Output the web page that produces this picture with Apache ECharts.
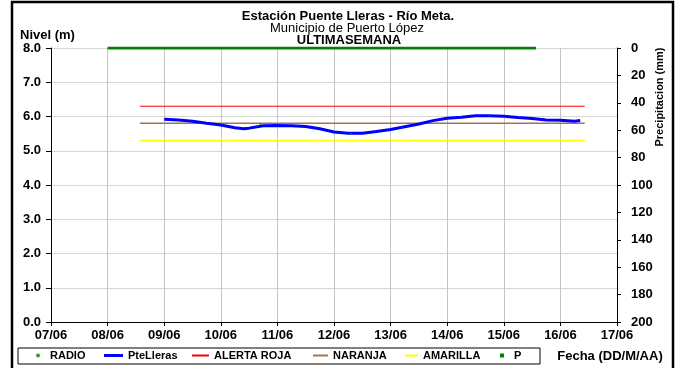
<!DOCTYPE html>
<html>
<head>
<meta charset="utf-8">
<script src="https://cdn.jsdelivr.net/npm/echarts@6/dist/echarts.min.js"></script>
<style>
html,body{margin:0;padding:0;background:#fff;}
#main{width:679px;height:368px;}
</style>
</head>
<body>
<div id="main"></div>
<script>
// dias de junio (fraccion = hora del dia)
const levelDays = [9.00, 9.25, 9.50, 9.75, 10.00, 10.25, 10.40, 10.50, 10.75, 11.00, 11.25, 11.50, 11.75, 12.00, 12.25, 12.50, 12.75, 13.00, 13.25, 13.50, 13.75, 14.00, 14.25, 14.50, 14.75, 15.00, 15.25, 15.50, 15.75, 16.00, 16.25, 16.35];
const levelValues = [5.92, 5.90, 5.86, 5.80, 5.75, 5.67, 5.64, 5.66, 5.73, 5.74, 5.73, 5.71, 5.64, 5.55, 5.51, 5.51, 5.56, 5.62, 5.70, 5.78, 5.88, 5.95, 5.98, 6.02, 6.02, 6.01, 5.97, 5.94, 5.90, 5.89, 5.86, 5.88];
const radioDays = [10.7, 12.3, 13.2, 14.75];
const radioValues = [5.78, 5.50, 5.68, 6.04];
const alertDays = [8.57, 16.43];
const alertaRoja = [6.3, 6.3];
const naranja = [5.8, 5.8];
const amarilla = [5.3, 5.3];
const precipDays = [8.0, 8.5, 9.0, 9.5, 10.0, 10.5, 11.0, 11.5, 12.0, 12.5, 13.0, 13.5, 14.0, 14.5, 15.0, 15.57];
const precipValues = [0, 0, 0, 0, 0, 0, 0, 0, 0, 0, 0, 0, 0, 0, 0, 0];
const levelTicks = ['0.0', '1.0', '2.0', '3.0', '4.0', '5.0', '6.0', '7.0', '8.0'];

const font = 'Liberation Sans, Arial, sans-serif';
const pair = (xs, ys) => xs.map((x, i) => [x, ys[i]]);

let myChart = echarts.init(document.getElementById('main'));

const legendText = {color: '#000', fontFamily: font, fontWeight: 'bold', fontSize: 11};
function legendItem(name, left, w, h, icon, color) {
    return {
        data: [{name: name, itemStyle: {color: color}}], left: left, top: 350, icon: icon,
        itemWidth: w, itemHeight: h, padding: 0,
        textStyle: legendText, selectedMode: false
    };
}

const options = {
    animation: false,
    grid: {left: 51, right: 62, top: 48, bottom: 46},
    graphic: [
        {type: 'rect', shape: {x: 12, y: 2, width: 661, height: 380}, style: {fill: 'none', stroke: '#000', lineWidth: 2.5}},
        {type: 'rect', shape: {x: 18, y: 348, width: 522, height: 16}, style: {fill: 'none', stroke: '#000', lineWidth: 1}},
        {type: 'text', x: 348, y: 16, style: {text: 'Estación Puente Lleras - Río Meta.', font: 'bold 13px ' + font, fill: '#000', align: 'center', verticalAlign: 'middle'}},
        {type: 'text', x: 347, y: 28, style: {text: 'Municipio de Puerto López', font: '13px ' + font, fill: '#000', align: 'center', verticalAlign: 'middle'}},
        {type: 'text', x: 349, y: 40, style: {text: 'ULTIMASEMANA', font: 'bold 13px ' + font, fill: '#000', align: 'center', verticalAlign: 'middle'}},
        {type: 'text', x: 20, y: 35, style: {text: 'Nivel (m)', font: 'bold 13px ' + font, fill: '#000', align: 'left', verticalAlign: 'middle'}},
        {type: 'text', x: 610, y: 356, style: {text: 'Fecha (DD/M/AA)', font: 'bold 13px ' + font, fill: '#000', align: 'center', verticalAlign: 'middle'}},
        {type: 'text', x: 660, y: 97, rotation: Math.PI / 2, style: {text: 'Precipitacion (mm)', font: 'bold 11px ' + font, fill: '#000', align: 'center', verticalAlign: 'middle'}}
    ],
    legend: [
        legendItem('RADIO', 36, 14, 4, 'circle', '#008000'),
        legendItem('PteLleras', 104, 19, 3, 'rect', '#0000ff'),
        legendItem('ALERTA ROJA', 192, 17, 2, 'rect', '#ff0000'),
        legendItem('NARANJA', 313, 15, 2, 'rect', '#9c7656'),
        legendItem('AMARILLA', 405, 13, 2, 'rect', '#ffff00'),
        legendItem('P', 500, 14, 4, 'path://M0,0L4,0L4,4L0,4Z', '#008000')
    ],
    xAxis: {
        type: 'value', min: 7, max: 17, interval: 1,
        axisLine: {lineStyle: {color: '#000'}},
        axisTick: {length: 4, lineStyle: {color: '#000'}},
        axisLabel: {
            color: '#000', fontFamily: font, fontWeight: 'bold', fontSize: 13, margin: 7,
            formatter: v => String(Math.round(v)).padStart(2, '0') + '/06'
        },
        splitLine: {show: true, lineStyle: {color: '#c4c4c4'}}
    },
    yAxis: [
        {
            type: 'value', min: 0, max: 8, interval: 1,
            axisLine: {show: true, lineStyle: {color: '#000'}},
            axisTick: {show: true, length: 5, lineStyle: {color: '#000'}},
            axisLabel: {
                color: '#000', fontFamily: font, fontWeight: 'bold', fontSize: 13, margin: 10,
                formatter: v => levelTicks[Math.round(v)]
            },
            splitLine: {show: true, lineStyle: {color: '#d6d6d6'}}
        },
        {
            type: 'value', min: 0, max: 200, interval: 20, inverse: true, position: 'right',
            axisLine: {show: true, lineStyle: {color: '#000'}},
            axisTick: {show: true, length: 4, lineStyle: {color: '#000'}},
            axisLabel: {color: '#000', fontFamily: font, fontWeight: 'bold', fontSize: 13, margin: 14},
            splitLine: {show: false}
        }
    ],
    series: [
        {
            name: 'P', type: 'line', yAxisIndex: 1, data: pair(precipDays, precipValues),
            symbol: 'none', lineStyle: {color: '#008000', width: 3}, itemStyle: {color: '#008000'}, z: 5
        },
        {
            name: 'ALERTA ROJA', type: 'line', data: pair(alertDays, alertaRoja),
            symbol: 'none', lineStyle: {color: '#ff0000', width: 1}, itemStyle: {color: '#ff0000'}
        },
        {
            name: 'NARANJA', type: 'line', data: pair(alertDays, naranja),
            symbol: 'none', lineStyle: {color: '#9c7656', width: 1.5}, itemStyle: {color: '#9c7656'}
        },
        {
            name: 'AMARILLA', type: 'line', data: pair(alertDays, amarilla),
            symbol: 'none', lineStyle: {color: '#ffff00', width: 1.5}, itemStyle: {color: '#ffff00'}
        },
        {
            name: 'PteLleras', type: 'line', data: pair(levelDays, levelValues),
            symbol: 'none', lineStyle: {color: '#0000ff', width: 3}, itemStyle: {color: '#0000ff'}, z: 4
        },
        {
            name: 'RADIO', type: 'scatter', data: pair(radioDays, radioValues),
            symbolSize: 2, itemStyle: {color: '#008000'}, z: 6
        }
    ]
};
myChart.setOption(options);
window.addEventListener('resize', function () {
    myChart.resize();
});
</script>
</body>
</html>
